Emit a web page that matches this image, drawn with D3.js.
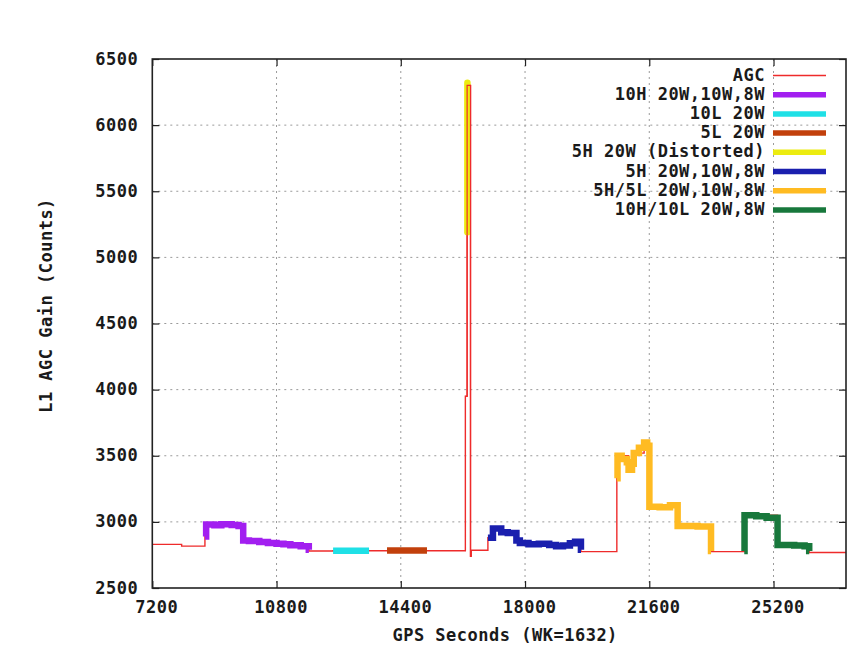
<!DOCTYPE html>
<html>
<head>
<meta charset="utf-8">
<script src="https://cdn.jsdelivr.net/npm/d3@7/dist/d3.min.js"></script>
<style>
  html, body { margin: 0; padding: 0; background: #fff; }
  svg text { font-family: "DejaVu Sans Mono", "Liberation Mono", monospace; font-weight: bold; fill: #1a1a1a; letter-spacing: 0.5px; }
</style>
</head>
<body>
<svg id="chart" width="863" height="648"></svg>
<script>
// ---------------- data ----------------
const xTicks = [7200, 10800, 14400, 18000, 21600, 25200];
const yTicks = [2500, 3000, 3500, 4000, 4500, 5000, 5500, 6000, 6500];
const xLabel = "GPS Seconds (WK=1632)";
const yLabel = "L1 AGC Gain (Counts)";

// AGC (thin red step line) [gps seconds, counts]
const agc = [
  [7200, 2830], [8050, 2817], [8725, 2890], [8760, 2980], [9834, 2860], [10300, 2848],
  [10550, 2840], [10800, 2835], [11000, 2828], [11400, 2818], [11735, 2780],
  [12438, 2782], [16271, 3950], [16322, 6300], [16420, 2740], [16440, 2785],
  [16924, 2880], [17070, 2950], [17310, 2920], [17750, 2860], [17850, 2835],
  [18900, 2815], [19300, 2840], [19620, 2775], [20660, 3330], [20680, 3500],
  [21000, 3400], [21150, 3520], [21450, 3600], [21603, 3120], [22422, 2970],
  [23389, 2775], [24352, 3050], [25317, 2825], [26234, 2768], [27300, 2768]
];
const s10H = [
  [8725, 2890], [8760, 2980], [9000, 2975], [9200, 2982], [9500, 2976], [9700, 2968],
  [9834, 2860], [10000, 2855], [10300, 2848], [10550, 2840], [10800, 2835],
  [11000, 2830], [11200, 2824], [11500, 2816], [11735, 2790], [11736, 2790]
];
const s10L = [[12438, 2782], [13480, 2782]];
const s5L = [[14001, 2784], [15159, 2784]];
const s5HDist = [[16330, 5190], [16330, 6320]];
const s5H = [
  [16924, 2880], [17070, 2950], [17310, 2922], [17500, 2915], [17750, 2860],
  [17850, 2840], [18100, 2830], [18400, 2834], [18700, 2825], [18900, 2815],
  [19100, 2822], [19300, 2838], [19450, 2850], [19620, 2790], [19621, 2790]
];
const s5H5L = [
  [20660, 3330], [20680, 3500], [20800, 3475], [20950, 3450], [21000, 3395],
  [21100, 3440], [21150, 3520], [21300, 3560], [21450, 3600], [21540, 3575],
  [21603, 3115], [21900, 3110], [22200, 3125], [22422, 2968], [23000, 2965],
  [23389, 2780], [23390, 2780]
];
const s10H10L = [
  [24352, 2780], [24360, 3050], [24700, 3042], [25000, 3032], [25317, 2825],
  [25800, 2822], [26100, 2815], [26234, 2780], [26235, 2780]
];

const seriesNames = ["AGC", "10H 20W,10W,8W", "10L 20W", "5L 20W", "5H 20W (Distorted)",
  "5H 20W,10W,8W", "5H/5L 20W,10W,8W", "10H/10L 20W,8W"];
const seriesData = [agc, s10H, s10L, s5L, s5HDist, s5H, s5H5L, s10H10L];
const seriesColors = ["#ee2b2b", "#a21ff0", "#1fe0e6", "#c2400c", "#ecec10",
  "#1a1fae", "#ffbb22", "#18783c"];
const seriesWidths = [1.4, 6.5, 6.5, 6.5, 6.5, 6.5, 6.5, 6.5];

// ---------------- layout ----------------
const svg = d3.select("#chart");
const L = 152.3, R = 846, T = 59, B = 588;
const FS = 17;
const x = d3.scaleLinear().domain([7200, 27300]).range([L, R]);
const y = d3.scaleLinear().domain([2500, 6500]).range([B, T]);

// grid
const grid = svg.append("g");
grid.selectAll("line.gx").data(xTicks.slice(1)).join("line")
  .attr("x1", d => x(d)).attr("x2", d => x(d)).attr("y1", T).attr("y2", B)
  .attr("stroke", "#9a9a9a").attr("stroke-width", 1).attr("stroke-dasharray", "2,4");
grid.selectAll("line.gy").data(yTicks.slice(1, -1)).join("line")
  .attr("y1", d => y(d)).attr("y2", d => y(d)).attr("x1", L).attr("x2", R)
  .attr("stroke", "#9a9a9a").attr("stroke-width", 1).attr("stroke-dasharray", "2,4");

// series
const line = d3.line().x(d => x(d[0])).y(d => y(d[1])).curve(d3.curveStepAfter);
const order = [0, 1, 2, 3, 5, 6, 7, 4];
order.forEach(i => {
  svg.append("path").datum(seriesData[i])
    .attr("d", line)
    .attr("fill", "none")
    .attr("stroke", seriesColors[i])
    .attr("stroke-width", seriesWidths[i])
    .attr("stroke-linejoin", "miter")
    .attr("stroke-linecap", i === 4 ? "round" : "butt");
});
// AGC drawn again on top only at the spike (thin red visible over yellow)
svg.append("path").datum(agc.filter(d => d[0] >= 16271 && d[0] <= 16440))
  .attr("d", line).attr("fill", "none").attr("stroke", seriesColors[0]).attr("stroke-width", 1.2);

// axes (gnuplot style: inward ticks, mirrored)
const tl = 7;
const axB = d3.axisBottom(x).tickValues(xTicks).tickSizeInner(-tl).tickSizeOuter(0).tickFormat(d3.format("d"));
const axT = d3.axisTop(x).tickValues(xTicks).tickSizeInner(-tl).tickSizeOuter(0).tickFormat("");
const axLft = d3.axisLeft(y).tickValues(yTicks).tickSizeInner(-tl).tickSizeOuter(0).tickFormat(d3.format("d"));
const axRgt = d3.axisRight(y).tickValues(yTicks).tickSizeInner(-tl).tickSizeOuter(0).tickFormat("");

function styleAxis(g) {
  g.select(".domain").remove();
  g.selectAll(".tick line").attr("stroke", "#222").attr("stroke-width", 1.2);
  g.selectAll("text").attr("font-size", FS).attr("fill", "#1a1a1a")
    .style("font-family", "'DejaVu Sans Mono', monospace").style("font-weight", "bold")
    .style("letter-spacing", "0.5px");
}
svg.append("g").attr("transform", `translate(0,${B})`).call(axB).call(styleAxis)
  .selectAll("text").attr("dy", null).attr("y", 20).attr("dx", 4).attr("dominant-baseline", "middle");
svg.append("g").attr("transform", `translate(0,${T})`).call(axT).call(styleAxis);
svg.append("g").attr("transform", `translate(${L},0)`).call(axLft).call(styleAxis)
  .selectAll("text").attr("x", -14).attr("dy", null).attr("dominant-baseline", "middle");
svg.append("g").attr("transform", `translate(${R},0)`).call(axRgt).call(styleAxis);

// border
svg.append("rect").attr("x", L).attr("y", T).attr("width", R - L).attr("height", B - T)
  .attr("fill", "none").attr("stroke", "#222").attr("stroke-width", 1.6);

// axis titles
svg.append("text").attr("x", (L + R) / 2 + 6).attr("y", 636)
  .attr("text-anchor", "middle").attr("dominant-baseline", "middle")
  .attr("font-size", FS).text(xLabel);
svg.append("text").attr("transform", `translate(47,${(T + B) / 2 - 18}) rotate(-90)`)
  .attr("text-anchor", "middle").attr("dominant-baseline", "middle")
  .attr("font-size", FS).text(yLabel);

// legend
const legX = 765, legY0 = 75.5, legDy = 19.2;
const leg = svg.append("g");
seriesNames.forEach((n, i) => {
  const yy = legY0 + i * legDy;
  leg.append("text").attr("x", legX).attr("y", yy).attr("text-anchor", "end")
    .attr("dominant-baseline", "middle").attr("font-size", FS).text(n);
  leg.append("line").attr("x1", 773).attr("x2", 826).attr("y1", yy).attr("y2", yy)
    .attr("stroke", seriesColors[i]).attr("stroke-width", i === 0 ? 1.4 : 5.5);
});
</script>
</body>
</html>
